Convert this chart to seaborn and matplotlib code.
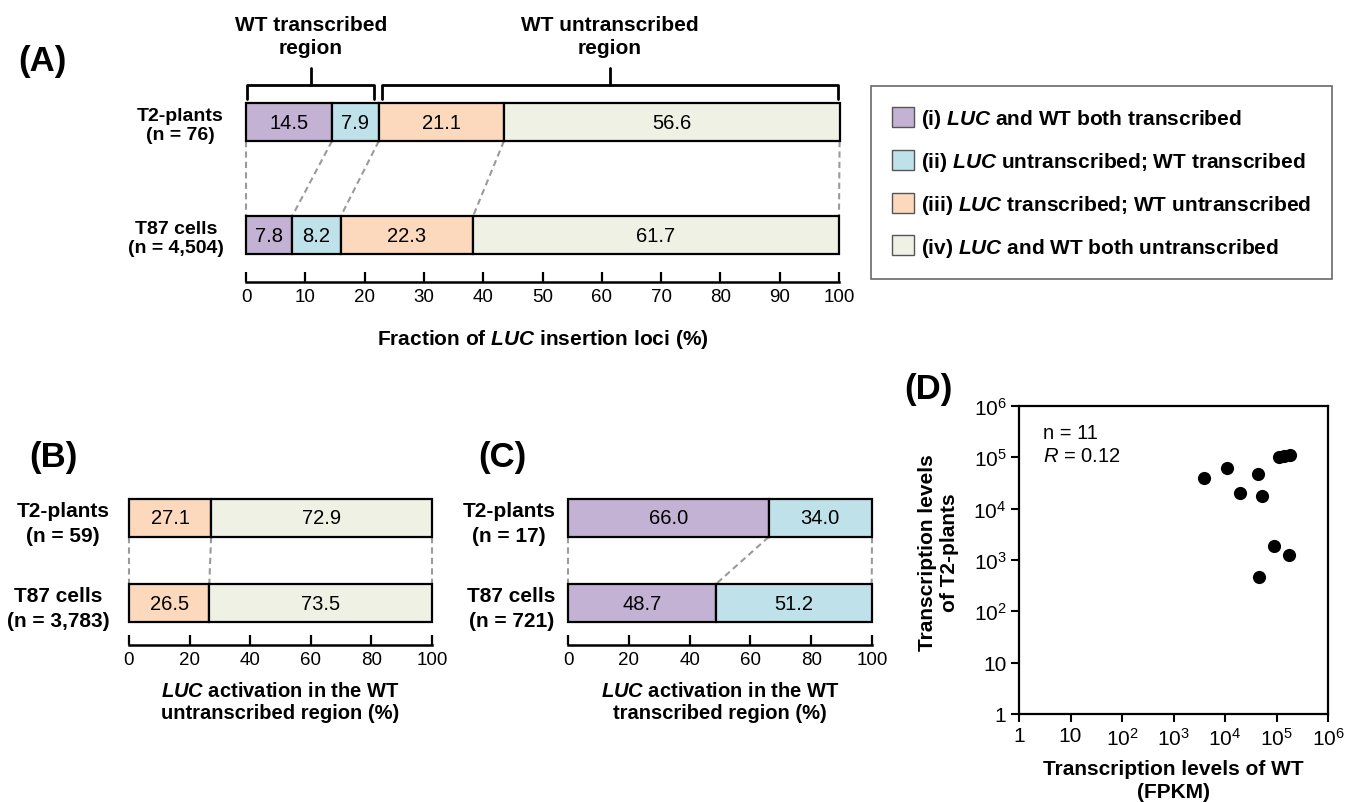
import matplotlib
matplotlib.use("Agg")
import matplotlib.pyplot as plt
from matplotlib.patches import Patch
import seaborn as sns
import numpy as np
import pandas as pd

# ---- data ----
cat_labels = [
    "(i) $LUC$ and WT both transcribed",
    "(ii) $LUC$ untranscribed; WT transcribed",
    "(iii) $LUC$ transcribed; WT untranscribed",
    "(iv) $LUC$ and WT both untranscribed",
]
cat_colors = ["#C3B2D4", "#BFE1EA", "#FCD9BD", "#EEF1E3"]

a_rows = ["T2-plants\n(n = 76)", "T87 cells\n(n = 4,504)"]
a_i = [14.5, 7.8]
a_ii = [7.9, 8.2]
a_iii = [21.1, 22.3]
a_iv = [56.6, 61.7]

b_rows = ["T2-plants\n(n = 59)", "T87 cells\n(n = 3,783)"]
b_iii = [27.1, 26.5]
b_iv = [72.9, 73.5]

c_rows = ["T2-plants\n(n = 17)", "T87 cells\n(n = 721)"]
c_i = [66.0, 48.7]
c_ii = [34.0, 51.2]

d_wt = [3.9e3, 1.07e4, 1.95e4, 4.3e4, 5.3e4, 1.1e5, 1.4e5, 1.8e5, 9.1e4, 1.74e5, 4.6e4]
d_t2 = [4.0e4, 6.2e4, 2.0e4, 4.8e4, 1.78e4, 1.0e5, 1.05e5, 1.12e5, 1.85e3, 1.23e3, 4.75e2]

sns.set_theme(style="white")
plt.rcParams["font.family"] = ["Liberation Sans", "DejaVu Sans"]
plt.rcParams["mathtext.fontset"] = "custom"
plt.rcParams["mathtext.rm"] = "Liberation Sans"
plt.rcParams["mathtext.it"] = "Liberation Sans:italic:bold"
plt.rcParams["mathtext.bf"] = "Liberation Sans:bold"
plt.rcParams["mathtext.sf"] = "Liberation Sans:italic"
for key in ["text.color", "axes.labelcolor", "xtick.color", "ytick.color", "axes.edgecolor"]:
    plt.rcParams[key] = "black"

W, H = 1356, 803
fig = plt.figure(figsize=(W / 100, H / 100), dpi=100)


def px_axes(x0, y0, x1, y1):
    return fig.add_axes([x0 / W, 1 - y1 / H, (x1 - x0) / W, (y1 - y0) / H])


def stacked(ax, rows, parts, colors, h, val_fs, label_ls):
    pos = np.arange(len(rows))
    left = np.zeros(len(rows))
    bounds = [left.copy()]
    for vals, col in zip(parts, colors):
        vals = np.asarray(vals, dtype=float)
        bars = ax.barh(pos, vals, left=left, height=h, color=col,
                       edgecolor="black", linewidth=1.6, zorder=3)
        for p in bars:
            p.set_clip_on(False)
        for i, (l, v) in enumerate(zip(left, vals)):
            ax.text(l + v / 2, pos[i], f"{v:.1f}", ha="center", va="center",
                    fontsize=val_fs, zorder=4)
        left = left + vals
        bounds.append(left.copy())
    # dashed connectors between the two rows
    for b in bounds:
        ax.plot([b[0], b[1]], [h / 2, 1 - h / 2], ls=(0, (3, 2)), color="#9a9a9a",
                lw=1.5, zorder=1, clip_on=False)
    ax.set_xlim(0, 100)
    ax.set_yticks(pos)
    ax.set_yticklabels(rows, fontweight="bold")
    for t in ax.get_yticklabels():
        t.set_multialignment("center")
        t.set_linespacing(label_ls)
    for s in ["left", "top", "right"]:
        ax.spines[s].set_visible(False)
    ax.spines["bottom"].set_linewidth(1.8)
    ax.tick_params(axis="x", direction="in", length=7, width=1.6, bottom=True,
                   pad=4, labelsize=13.5)


# ---- (A) ----
hA = 0.336
axA = px_axes(246, 95, 839, 283)
stacked(axA, a_rows, [a_i, a_ii, a_iii, a_iv], cat_colors, hA, 14.5, 1.15)
axA.set_ylim(1.416, -0.248)
axA.set_xticks(np.arange(0, 101, 10))
axA.tick_params(axis="y", length=0, pad=16, labelsize=14)
axA.set_xlabel("Fraction of $LUC$ insertion loci (%)", fontsize=15,
               fontweight="bold", labelpad=16)

# brackets over the WT transcribed / untranscribed groups
split = np.cumsum([a_i[0], a_ii[0]])[-1]
groups = [(0.2, split - 0.8, "WT transcribed\nregion"),
          (split + 0.6, 99.8, "WT untranscribed\nregion")]
y_end, y_h, y_top = -0.20, -0.33, -0.48
for x0, x1, label in groups:
    xm = (x0 + x1) / 2
    axA.plot([x0, x0, x1, x1], [y_end, y_h, y_h, y_end], color="black", lw=2,
             clip_on=False, solid_joinstyle="round")
    axA.plot([xm, xm], [y_h, y_top], color="black", lw=2, clip_on=False)
    axA.text(xm, -0.76, label, ha="center", va="center", fontsize=15,
             fontweight="bold", linespacing=1.3)

fig.text(42 / W, 1 - 62 / H, "(A)", fontsize=25, fontweight="bold",
         ha="center", va="center")

handles = [Patch(facecolor=c, edgecolor="#555555", label=l)
           for c, l in zip(cat_colors, cat_labels)]
leg = fig.legend(handles=handles, loc="upper left",
                 bbox_to_anchor=(871 / W, 1 - 87 / H), bbox_transform=fig.transFigure,
                 borderaxespad=0, frameon=True, fancybox=False, edgecolor="#444444",
                 prop={"weight": "bold", "size": 15}, borderpad=1.0,
                 labelspacing=0.95, handlelength=1.06, handleheight=1.1,
                 handletextpad=0.35)
leg.get_frame().set_linewidth(1.2)

# ---- (B) and (C) ----
hB = 0.447
axB = px_axes(129, 490, 432, 646)
stacked(axB, b_rows, [b_iii, b_iv], [cat_colors[2], cat_colors[3]], hB, 14.5, 1.4)
axB.set_ylim(1.494, -0.341)
axB.set_xticks(np.arange(0, 101, 20))
axB.tick_params(axis="y", length=0, pad=14, labelsize=15)
axB.set_xlabel("$LUC$ activation in the WT\nuntranscribed region (%)", fontsize=14.5,
               fontweight="bold", labelpad=10, linespacing=1.2)

axC = px_axes(568, 490, 872, 646)
stacked(axC, c_rows, [c_i, c_ii], [cat_colors[0], cat_colors[1]], hB, 14.5, 1.4)
axC.set_ylim(1.494, -0.341)
axC.set_xticks(np.arange(0, 101, 20))
axC.tick_params(axis="y", length=0, pad=9, labelsize=15)
axC.set_xlabel("$LUC$ activation in the WT\ntranscribed region (%)", fontsize=14.5,
               fontweight="bold", labelpad=10, linespacing=1.2)

fig.text(53 / W, 1 - 457 / H, "(B)", fontsize=25, fontweight="bold",
         ha="center", va="center")
fig.text(502 / W, 1 - 457 / H, "(C)", fontsize=25, fontweight="bold",
         ha="center", va="center")

# ---- (D) ----
axD = px_axes(1019, 407, 1328, 715)
df_d = pd.DataFrame({"wt": d_wt, "t2": d_t2})
sns.scatterplot(data=df_d, x="wt", y="t2", ax=axD, color="black", s=90,
                edgecolor="black", linewidth=0, zorder=3, clip_on=False)
axD.set_xscale("log")
axD.set_yscale("log")
axD.set_xlim(1, 1e6)
axD.set_ylim(1, 1e6)
dec = 10.0 ** np.arange(7)
dec_labels = ["1", "10"] + [rf"$\mathregular{{10^{{{k}}}}}$" for k in range(2, 7)]
axD.set_xticks(dec)
axD.set_xticklabels(dec_labels)
axD.set_yticks(dec)
axD.set_yticklabels(dec_labels)
axD.minorticks_off()
for s in axD.spines.values():
    s.set_linewidth(1.6)
axD.tick_params(direction="out", length=6, width=1.5, bottom=True, left=True,
                labelsize=15, pad=3)
axD.set_xlabel("Transcription levels of WT\n(FPKM)", fontsize=15, fontweight="bold",
               linespacing=1.3)
axD.xaxis.set_label_coords(0.5, -0.145)
axD.xaxis.label.set_va("top")
axD.set_ylabel("Transcription levels\nof T2-plants", fontsize=15, fontweight="bold",
               linespacing=1.15)
axD.yaxis.set_label_coords(-0.195, 0.526)
axD.text(0.078, 0.915, "n = 11", transform=axD.transAxes, fontsize=14.5,
         va="center", ha="left")
axD.text(0.078, 0.838, r"$\mathsf{R}$ = 0.12", transform=axD.transAxes, fontsize=14.5,
         va="center", ha="left")

fig.text(928 / W, 1 - 390 / H, "(D)", fontsize=25, fontweight="bold",
         ha="center", va="center")

fig.savefig("out.png", dpi=100, facecolor="white")
